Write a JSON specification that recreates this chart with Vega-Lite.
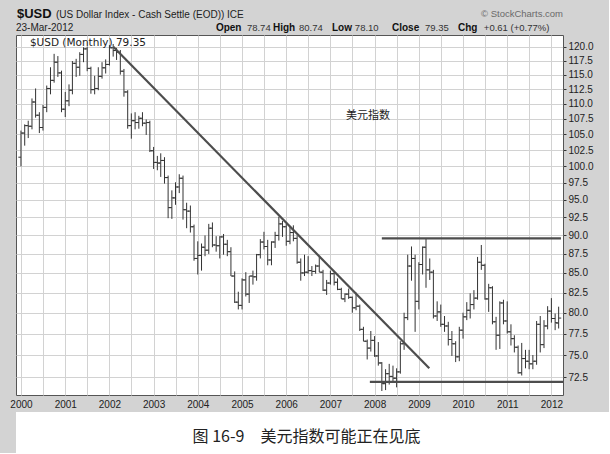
{
  "$schema": "https://vega.github.io/schema/vega-lite/v6.json",
  "background": "#d3d3d3",
  "padding": {"left": 9, "top": 7, "right": 0, "bottom": 0},
  "bounds": "flush",
  "spacing": 17,
  "datasets": {
    "bars": [
      {"d":"2000-01-01","o":101.4,"h":105.6,"l":100.0,"c":105.2},
      {"d":"2000-02-01","o":105.2,"h":106.6,"l":103.2,"c":106.4},
      {"d":"2000-03-01","o":106.4,"h":107.2,"l":104.4,"c":106.3},
      {"d":"2000-04-01","o":106.3,"h":110.9,"l":105.8,"c":110.3},
      {"d":"2000-05-01","o":110.3,"h":112.6,"l":107.7,"c":108.1},
      {"d":"2000-06-01","o":108.1,"h":108.6,"l":105.2,"c":106.1},
      {"d":"2000-07-01","o":106.1,"h":109.8,"l":105.6,"c":109.4},
      {"d":"2000-08-01","o":109.4,"h":113.1,"l":108.6,"c":112.6},
      {"d":"2000-09-01","o":112.6,"h":116.3,"l":111.6,"c":114.0},
      {"d":"2000-10-01","o":114.0,"h":118.7,"l":113.6,"c":117.2},
      {"d":"2000-11-01","o":117.2,"h":118.3,"l":114.6,"c":115.3},
      {"d":"2000-12-01","o":115.3,"h":115.7,"l":108.6,"c":109.1},
      {"d":"2001-01-01","o":109.1,"h":112.0,"l":107.8,"c":110.5},
      {"d":"2001-02-01","o":110.5,"h":113.3,"l":109.6,"c":112.3},
      {"d":"2001-03-01","o":112.3,"h":117.4,"l":111.6,"c":117.0},
      {"d":"2001-04-01","o":117.0,"h":117.8,"l":114.6,"c":116.3},
      {"d":"2001-05-01","o":116.3,"h":119.0,"l":114.8,"c":118.6},
      {"d":"2001-06-01","o":118.6,"h":119.9,"l":117.2,"c":119.6},
      {"d":"2001-07-01","o":119.6,"h":120.0,"l":115.6,"c":116.1},
      {"d":"2001-08-01","o":116.1,"h":116.4,"l":111.7,"c":112.4},
      {"d":"2001-09-01","o":112.4,"h":114.8,"l":111.6,"c":112.6},
      {"d":"2001-10-01","o":112.6,"h":116.3,"l":112.3,"c":114.7},
      {"d":"2001-11-01","o":114.7,"h":117.2,"l":114.3,"c":116.2},
      {"d":"2001-12-01","o":116.2,"h":117.7,"l":115.2,"c":116.8},
      {"d":"2002-01-01","o":116.8,"h":120.3,"l":116.6,"c":119.8},
      {"d":"2002-02-01","o":119.8,"h":120.5,"l":118.2,"c":119.3},
      {"d":"2002-03-01","o":119.3,"h":119.8,"l":117.6,"c":119.0},
      {"d":"2002-04-01","o":119.0,"h":119.4,"l":115.0,"c":115.6},
      {"d":"2002-05-01","o":115.6,"h":116.0,"l":111.2,"c":112.0},
      {"d":"2002-06-01","o":112.0,"h":112.3,"l":105.9,"c":106.4},
      {"d":"2002-07-01","o":106.4,"h":108.4,"l":104.3,"c":107.2},
      {"d":"2002-08-01","o":107.2,"h":108.6,"l":105.8,"c":106.9},
      {"d":"2002-09-01","o":106.9,"h":108.0,"l":105.9,"c":107.6},
      {"d":"2002-10-01","o":107.6,"h":108.6,"l":106.3,"c":106.8},
      {"d":"2002-11-01","o":106.8,"h":107.4,"l":104.9,"c":106.9},
      {"d":"2002-12-01","o":106.9,"h":107.2,"l":102.2,"c":102.4},
      {"d":"2003-01-01","o":102.4,"h":103.0,"l":99.6,"c":100.6},
      {"d":"2003-02-01","o":100.6,"h":101.6,"l":99.4,"c":100.5},
      {"d":"2003-03-01","o":100.5,"h":102.0,"l":98.4,"c":100.9},
      {"d":"2003-04-01","o":100.9,"h":101.4,"l":97.4,"c":98.3},
      {"d":"2003-05-01","o":98.3,"h":98.6,"l":92.4,"c":93.9},
      {"d":"2003-06-01","o":93.9,"h":96.4,"l":92.3,"c":95.3},
      {"d":"2003-07-01","o":95.3,"h":97.6,"l":94.3,"c":96.9},
      {"d":"2003-08-01","o":96.9,"h":98.8,"l":96.0,"c":98.2},
      {"d":"2003-09-01","o":98.2,"h":98.6,"l":92.2,"c":93.6},
      {"d":"2003-10-01","o":93.6,"h":94.6,"l":91.0,"c":93.4},
      {"d":"2003-11-01","o":93.4,"h":94.2,"l":90.4,"c":91.2},
      {"d":"2003-12-01","o":91.2,"h":91.5,"l":86.6,"c":86.9},
      {"d":"2004-01-01","o":86.9,"h":89.2,"l":84.8,"c":87.3},
      {"d":"2004-02-01","o":87.3,"h":88.9,"l":85.3,"c":88.4},
      {"d":"2004-03-01","o":88.4,"h":90.0,"l":87.2,"c":88.0},
      {"d":"2004-04-01","o":88.0,"h":91.6,"l":87.5,"c":91.0},
      {"d":"2004-05-01","o":91.0,"h":91.8,"l":88.4,"c":88.7},
      {"d":"2004-06-01","o":88.7,"h":89.9,"l":87.8,"c":88.6},
      {"d":"2004-07-01","o":88.6,"h":89.9,"l":86.9,"c":89.8},
      {"d":"2004-08-01","o":89.8,"h":90.2,"l":87.4,"c":88.8},
      {"d":"2004-09-01","o":88.8,"h":89.4,"l":87.2,"c":87.8},
      {"d":"2004-10-01","o":87.8,"h":88.4,"l":84.6,"c":84.6},
      {"d":"2004-11-01","o":84.6,"h":85.2,"l":81.2,"c":81.3},
      {"d":"2004-12-01","o":81.3,"h":82.6,"l":80.4,"c":80.9},
      {"d":"2005-01-01","o":80.9,"h":84.3,"l":80.4,"c":84.1},
      {"d":"2005-02-01","o":84.1,"h":85.1,"l":82.0,"c":82.3},
      {"d":"2005-03-01","o":82.3,"h":84.6,"l":81.2,"c":84.6},
      {"d":"2005-04-01","o":84.6,"h":85.3,"l":83.5,"c":84.5},
      {"d":"2005-05-01","o":84.5,"h":87.5,"l":84.0,"c":87.4},
      {"d":"2005-06-01","o":87.4,"h":89.5,"l":86.9,"c":89.1},
      {"d":"2005-07-01","o":89.1,"h":90.5,"l":88.1,"c":88.5},
      {"d":"2005-08-01","o":88.5,"h":89.4,"l":86.0,"c":86.7},
      {"d":"2005-09-01","o":86.7,"h":89.2,"l":86.0,"c":89.1},
      {"d":"2005-10-01","o":89.1,"h":90.5,"l":88.3,"c":90.0},
      {"d":"2005-11-01","o":90.0,"h":92.6,"l":89.3,"c":91.6},
      {"d":"2005-12-01","o":91.6,"h":92.0,"l":89.8,"c":91.2},
      {"d":"2006-01-01","o":91.2,"h":91.6,"l":88.6,"c":89.2},
      {"d":"2006-02-01","o":89.2,"h":91.2,"l":88.8,"c":90.4},
      {"d":"2006-03-01","o":90.4,"h":91.4,"l":89.2,"c":89.6},
      {"d":"2006-04-01","o":89.6,"h":90.0,"l":86.2,"c":86.4},
      {"d":"2006-05-01","o":86.4,"h":86.9,"l":84.0,"c":85.0},
      {"d":"2006-06-01","o":85.0,"h":87.4,"l":84.6,"c":85.1},
      {"d":"2006-07-01","o":85.1,"h":87.2,"l":84.9,"c":85.3},
      {"d":"2006-08-01","o":85.3,"h":85.9,"l":84.6,"c":85.2},
      {"d":"2006-09-01","o":85.2,"h":86.1,"l":84.9,"c":85.9},
      {"d":"2006-10-01","o":85.9,"h":87.1,"l":85.1,"c":85.1},
      {"d":"2006-11-01","o":85.1,"h":85.4,"l":82.7,"c":82.8},
      {"d":"2006-12-01","o":82.8,"h":84.1,"l":82.2,"c":83.7},
      {"d":"2007-01-01","o":83.7,"h":85.3,"l":83.5,"c":84.9},
      {"d":"2007-02-01","o":84.9,"h":85.1,"l":83.4,"c":83.8},
      {"d":"2007-03-01","o":83.8,"h":84.3,"l":82.8,"c":82.9},
      {"d":"2007-04-01","o":82.9,"h":83.1,"l":81.7,"c":81.7},
      {"d":"2007-05-01","o":81.7,"h":82.4,"l":81.3,"c":82.3},
      {"d":"2007-06-01","o":82.3,"h":83.0,"l":81.7,"c":81.9},
      {"d":"2007-07-01","o":81.9,"h":82.0,"l":80.0,"c":80.6},
      {"d":"2007-08-01","o":80.6,"h":82.5,"l":80.3,"c":80.8},
      {"d":"2007-09-01","o":80.8,"h":81.0,"l":77.8,"c":78.0},
      {"d":"2007-10-01","o":78.0,"h":78.3,"l":76.6,"c":76.6},
      {"d":"2007-11-01","o":76.6,"h":76.8,"l":74.5,"c":75.8},
      {"d":"2007-12-01","o":75.8,"h":77.8,"l":75.4,"c":76.7},
      {"d":"2008-01-01","o":76.7,"h":77.2,"l":74.8,"c":74.9},
      {"d":"2008-02-01","o":74.9,"h":76.5,"l":73.8,"c":74.1},
      {"d":"2008-03-01","o":74.1,"h":74.2,"l":71.0,"c":71.8},
      {"d":"2008-04-01","o":71.8,"h":73.4,"l":71.1,"c":72.9},
      {"d":"2008-05-01","o":72.9,"h":74.0,"l":71.7,"c":72.6},
      {"d":"2008-06-01","o":72.6,"h":73.8,"l":71.9,"c":72.4},
      {"d":"2008-07-01","o":72.4,"h":73.5,"l":71.4,"c":73.1},
      {"d":"2008-08-01","o":73.1,"h":76.6,"l":72.9,"c":76.3},
      {"d":"2008-09-01","o":76.3,"h":80.0,"l":75.6,"c":79.4},
      {"d":"2008-10-01","o":79.4,"h":87.4,"l":79.1,"c":85.9},
      {"d":"2008-11-01","o":85.9,"h":88.5,"l":84.0,"c":86.9},
      {"d":"2008-12-01","o":86.9,"h":87.4,"l":77.7,"c":81.4},
      {"d":"2009-01-01","o":81.4,"h":86.4,"l":80.4,"c":86.1},
      {"d":"2009-02-01","o":86.1,"h":88.5,"l":84.8,"c":88.4},
      {"d":"2009-03-01","o":88.4,"h":89.6,"l":83.1,"c":85.4},
      {"d":"2009-04-01","o":85.4,"h":86.9,"l":84.1,"c":85.1},
      {"d":"2009-05-01","o":85.1,"h":85.4,"l":79.3,"c":79.6},
      {"d":"2009-06-01","o":79.6,"h":81.4,"l":79.0,"c":80.1},
      {"d":"2009-07-01","o":80.1,"h":81.0,"l":78.3,"c":78.6},
      {"d":"2009-08-01","o":78.6,"h":79.6,"l":77.7,"c":78.4},
      {"d":"2009-09-01","o":78.4,"h":78.9,"l":76.1,"c":76.8},
      {"d":"2009-10-01","o":76.8,"h":77.8,"l":74.9,"c":76.3},
      {"d":"2009-11-01","o":76.3,"h":76.6,"l":74.2,"c":74.8},
      {"d":"2009-12-01","o":74.8,"h":78.3,"l":74.3,"c":77.9},
      {"d":"2010-01-01","o":77.9,"h":80.0,"l":76.9,"c":79.5},
      {"d":"2010-02-01","o":79.5,"h":81.3,"l":79.1,"c":80.3},
      {"d":"2010-03-01","o":80.3,"h":82.4,"l":79.3,"c":81.0},
      {"d":"2010-04-01","o":81.0,"h":82.8,"l":80.4,"c":81.8},
      {"d":"2010-05-01","o":81.8,"h":87.1,"l":81.6,"c":86.4},
      {"d":"2010-06-01","o":86.4,"h":88.7,"l":85.4,"c":86.0},
      {"d":"2010-07-01","o":86.0,"h":86.2,"l":81.6,"c":81.7},
      {"d":"2010-08-01","o":81.7,"h":83.6,"l":80.1,"c":83.1},
      {"d":"2010-09-01","o":83.1,"h":83.3,"l":78.6,"c":78.9},
      {"d":"2010-10-01","o":78.9,"h":79.5,"l":75.6,"c":77.3},
      {"d":"2010-11-01","o":77.3,"h":81.4,"l":75.7,"c":81.2},
      {"d":"2010-12-01","o":81.2,"h":81.6,"l":78.6,"c":79.0},
      {"d":"2011-01-01","o":79.0,"h":81.4,"l":77.5,"c":77.7},
      {"d":"2011-02-01","o":77.7,"h":78.6,"l":76.1,"c":76.9},
      {"d":"2011-03-01","o":76.9,"h":77.3,"l":75.3,"c":75.9},
      {"d":"2011-04-01","o":75.9,"h":76.1,"l":72.9,"c":73.0},
      {"d":"2011-05-01","o":73.0,"h":76.4,"l":72.7,"c":74.6},
      {"d":"2011-06-01","o":74.6,"h":75.6,"l":73.5,"c":74.3},
      {"d":"2011-07-01","o":74.3,"h":75.6,"l":73.4,"c":74.0},
      {"d":"2011-08-01","o":74.0,"h":75.0,"l":73.4,"c":74.3},
      {"d":"2011-09-01","o":74.3,"h":79.0,"l":73.9,"c":78.6},
      {"d":"2011-10-01","o":78.6,"h":79.6,"l":75.3,"c":76.2},
      {"d":"2011-11-01","o":76.2,"h":79.1,"l":75.8,"c":78.4},
      {"d":"2011-12-01","o":78.4,"h":80.8,"l":78.0,"c":80.2},
      {"d":"2012-01-01","o":80.2,"h":81.8,"l":78.8,"c":79.3},
      {"d":"2012-02-01","o":79.3,"h":79.9,"l":77.9,"c":78.8},
      {"d":"2012-03-01","o":78.74,"h":80.74,"l":78.10,"c":79.35}
    ],
    "lines": [
      {"id": "trend", "d": "2002-02-02", "v": 120.0},
      {"id": "trend", "d": "2009-03-28", "v": 73.5},
      {"id": "top", "d": "2008-03-01", "v": 89.6},
      {"id": "top", "d": "2012-03-20", "v": 89.6},
      {"id": "base", "d": "2007-11-23", "v": 72.0},
      {"id": "base", "d": "2012-04-06", "v": 72.0}
    ],
    "labels": [
      {"part": "symbol", "d": "1999-11-29", "v": 125.37, "t": "$USD"},
      {"part": "plain", "d": "2000-10-16", "v": 125.37, "t": "(US Dollar Index - Cash Settle (EOD)) ICE"},
      {"part": "plain", "d": "1999-11-21", "v": 122.9, "t": "23-Mar-2012"},
      {"part": "credit", "d": "2012-04-06", "v": 125.56, "t": "© StockCharts.com"},
      {"part": "qlabel", "d": "2004-05-30", "v": 122.9, "t": "Open"},
      {"part": "qvalue", "d": "2005-02-10", "v": 122.9, "t": "78.74"},
      {"part": "qlabel", "d": "2005-09-13", "v": 122.9, "t": "High"},
      {"part": "qvalue", "d": "2006-04-16", "v": 122.9, "t": "80.74"},
      {"part": "qlabel", "d": "2007-01-14", "v": 122.9, "t": "Low"},
      {"part": "qvalue", "d": "2007-07-22", "v": 122.9, "t": "78.10"},
      {"part": "qlabel", "d": "2008-05-24", "v": 122.9, "t": "Close"},
      {"part": "qvalue", "d": "2009-02-20", "v": 122.9, "t": "79.35"},
      {"part": "qlabel", "d": "2009-11-20", "v": 122.9, "t": "Chg"},
      {"part": "qvalue", "d": "2010-06-22", "v": 122.9, "t": "+0.61 (+0.77%)"},
      {"part": "legend", "d": "2000-03-15", "v": 120.13, "t": "$USD (Monthly) 79.35"},
      {"part": "note", "d": "2007-11-07", "v": 107.98, "t": "美元指数"}
    ]
  },
  "vconcat": [
    {
      "width": 547,
      "height": 360,
      "view": {"fill": "white", "stroke": "#555", "strokeWidth": 1},
      "encoding": {
        "x": {
          "field": "d",
          "type": "temporal",
          "title": null,
          "scale": {
            "type": "utc",
            "domain": [
              {"year": 1999, "month": 11, "date": 21, "utc": true},
              {"year": 2012, "month": 4, "date": 6, "utc": true}
            ],
            "nice": false
          },
          "axis": {
            "tickCount": {"interval": "month", "step": 6},
            "labelExpr": "utcmonth(datum.value) == 0 ? utcFormat(datum.value, '%Y') : ''",
            "labelOverlap": false,
            "labelFlush": false,
            "domain": false,
            "ticks": false,
            "grid": true,
            "gridColor": "#d2d2d2",
            "labelPadding": 4,
            "labelFont": "Liberation Sans",
            "labelFontSize": 10,
            "labelColor": "#222"
          }
        }
      },
      "layer": [
        {
          "data": {"name": "bars"},
          "mark": {"type": "rule", "color": "#333", "strokeWidth": 1},
          "encoding": {
            "y": {
              "field": "l",
              "type": "quantitative",
              "title": null,
              "scale": {"type": "log", "domain": [70.57, 122.16], "nice": false},
              "axis": {
                "orient": "right",
                "values": [72.5, 75, 77.5, 80, 82.5, 85, 87.5, 90, 92.5, 95, 97.5, 100, 102.5, 105, 107.5, 110, 112.5, 115, 117.5, 120],
                "format": ".1f",
                "domain": false,
                "grid": true,
                "gridColor": "#d2d2d2",
                "tickSize": 3,
                "tickColor": "#333",
                "labelPadding": 2,
                "labelFont": "Liberation Sans",
                "labelFontSize": 10,
                "labelColor": "#222"
              }
            },
            "y2": {"field": "h"}
          }
        },
        {
          "data": {"name": "bars"},
          "mark": {"type": "tick", "orient": "horizontal", "size": 2.6, "thickness": 1, "xOffset": -1.3, "color": "#333", "opacity": 1},
          "encoding": {
            "y": {"field": "o", "type": "quantitative", "title": null, "scale": {"type": "log", "domain": [70.57, 122.16], "nice": false}}
          }
        },
        {
          "data": {"name": "bars"},
          "mark": {"type": "tick", "orient": "horizontal", "size": 2.6, "thickness": 1, "xOffset": 1.3, "color": "#333", "opacity": 1},
          "encoding": {
            "y": {"field": "c", "type": "quantitative", "title": null, "scale": {"type": "log", "domain": [70.57, 122.16], "nice": false}}
          }
        },
        {
          "data": {"name": "lines"},
          "mark": {"type": "line", "color": "#4d4d4d", "strokeWidth": 2.2},
          "encoding": {
            "y": {"field": "v", "type": "quantitative", "title": null, "scale": {"type": "log", "domain": [70.57, 122.16], "nice": false}},
            "detail": {"field": "id"}
          }
        },
        {
          "data": {"name": "labels"},
          "transform": [{"filter": "datum.part == 'symbol'"}],
          "mark": {"type": "text", "align": "left", "baseline": "alphabetic", "font": "Liberation Sans", "fontSize": 13, "fontWeight": "bold", "color": "#111"},
          "encoding": {
            "y": {"field": "v", "type": "quantitative", "title": null, "scale": {"type": "log", "domain": [70.57, 122.16], "nice": false}},
            "text": {"field": "t"}
          }
        },
        {
          "data": {"name": "labels"},
          "transform": [{"filter": "datum.part == 'plain'"}],
          "mark": {"type": "text", "align": "left", "baseline": "alphabetic", "font": "Liberation Sans", "fontSize": 10, "color": "#222"},
          "encoding": {
            "y": {"field": "v", "type": "quantitative", "title": null, "scale": {"type": "log", "domain": [70.57, 122.16], "nice": false}},
            "text": {"field": "t"}
          }
        },
        {
          "data": {"name": "labels"},
          "transform": [{"filter": "datum.part == 'credit'"}],
          "mark": {"type": "text", "align": "right", "baseline": "alphabetic", "font": "Liberation Sans", "fontSize": 9.5, "color": "#6a6a6a"},
          "encoding": {
            "y": {"field": "v", "type": "quantitative", "title": null, "scale": {"type": "log", "domain": [70.57, 122.16], "nice": false}},
            "text": {"field": "t"}
          }
        },
        {
          "data": {"name": "labels"},
          "transform": [{"filter": "datum.part == 'qlabel'"}],
          "mark": {"type": "text", "align": "left", "baseline": "alphabetic", "font": "Liberation Sans", "fontSize": 10, "fontWeight": "bold", "color": "#111"},
          "encoding": {
            "y": {"field": "v", "type": "quantitative", "title": null, "scale": {"type": "log", "domain": [70.57, 122.16], "nice": false}},
            "text": {"field": "t"}
          }
        },
        {
          "data": {"name": "labels"},
          "transform": [{"filter": "datum.part == 'qvalue'"}],
          "mark": {"type": "text", "align": "left", "baseline": "alphabetic", "font": "Liberation Sans", "fontSize": 9.5, "color": "#333"},
          "encoding": {
            "y": {"field": "v", "type": "quantitative", "title": null, "scale": {"type": "log", "domain": [70.57, 122.16], "nice": false}},
            "text": {"field": "t"}
          }
        },
        {
          "data": {"name": "labels"},
          "transform": [{"filter": "datum.part == 'legend'"}],
          "mark": {"type": "text", "align": "left", "baseline": "alphabetic", "font": "DejaVu Sans", "fontSize": 10.5, "color": "#222"},
          "encoding": {
            "y": {"field": "v", "type": "quantitative", "title": null, "scale": {"type": "log", "domain": [70.57, 122.16], "nice": false}},
            "text": {"field": "t"}
          }
        },
        {
          "data": {"name": "labels"},
          "transform": [{"filter": "datum.part == 'note'"}],
          "mark": {"type": "text", "align": "center", "baseline": "middle", "font": "Noto Sans CJK SC", "fontSize": 11, "color": "#222"},
          "encoding": {
            "y": {"field": "v", "type": "quantitative", "title": null, "scale": {"type": "log", "domain": [70.57, 122.16], "nice": false}},
            "text": {"field": "t"}
          }
        }
      ]
    },
    {
      "width": 593,
      "height": 41,
      "view": {"fill": "white", "stroke": null},
      "data": {"values": [{"t": "图 16-9\u3000美元指数可能正在见底"}]},
      "mark": {"type": "text", "align": "center", "baseline": "middle", "font": "Noto Sans CJK SC", "fontSize": 16, "color": "#222", "dx": -6, "dy": 4},
      "encoding": {
        "text": {"field": "t"}
      }
    }
  ]
}
